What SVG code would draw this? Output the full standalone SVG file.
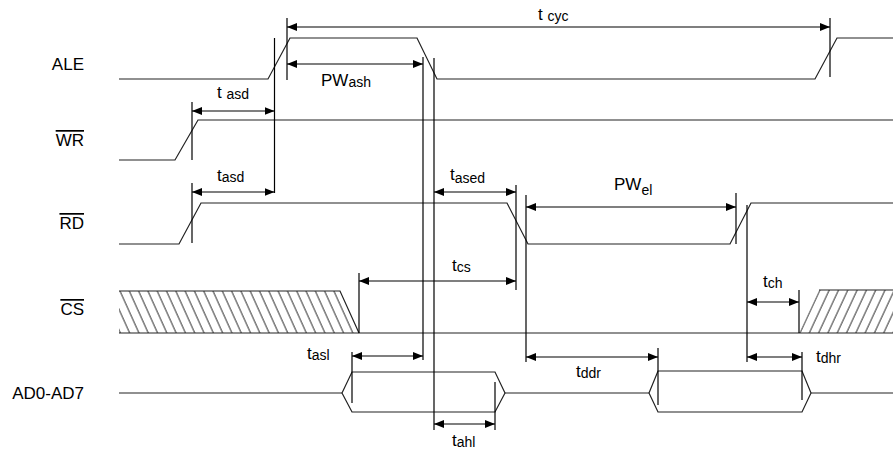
<svg xmlns="http://www.w3.org/2000/svg" width="893" height="450" viewBox="0 0 893 450">
<style>
.sig{fill:none;stroke:#222;stroke-width:1.2}
.v{stroke:#000;stroke-width:1.2}
.arr{stroke:#000;stroke-width:1.2;marker-start:url(#ah);marker-end:url(#ah)}
.lbl{font-family:"Liberation Sans",Arial,sans-serif;font-size:17px;fill:#000}
.ol{text-decoration:overline}
.sub{font-size:14px}
</style>
<defs>
<marker id="ah" viewBox="0 0 10 8" refX="10" refY="4" markerWidth="10" markerHeight="8" markerUnits="userSpaceOnUse" orient="auto-start-reverse">
<path d="M0,0 L10,4 L0,8 Z" fill="#000"/>
</marker>
<pattern id="hL" patternUnits="userSpaceOnUse" width="9.3" height="50" patternTransform="translate(119,291) skewX(24.3)">
<line x1="1" y1="-1" x2="1" y2="51" stroke="#222" stroke-width="1"/>
</pattern>
<pattern id="hR" patternUnits="userSpaceOnUse" width="9.3" height="50" patternTransform="translate(799,333) skewX(-24.9)">
<line x1="1" y1="-1" x2="1" y2="51" stroke="#222" stroke-width="1"/>
</pattern>
</defs>
<rect width="893" height="450" fill="#fff"/>

<g id="labels" class="lbl" text-anchor="end">
<text x="84" y="70">ALE</text>
<text x="84" y="146" class="ol">WR</text>
<text x="84" y="229" class="ol">RD</text>
<text x="84" y="315" class="ol">CS</text>
<text x="84" y="399">AD0-AD7</text>
</g>

<g id="ALE"><polyline class="sig" points="119,79 268,79 290,38 417,38 437,79 815,79 837,38 893,38"/></g>
<g id="WR"><polyline class="sig" points="119,160 175,160 198,120 893,120"/></g>
<g id="RD"><polyline class="sig" points="119,244 179,244 201,203 507,203 528,244 730,244 751,203 893,203"/></g>
<g id="CS">
<polygon points="119,291 340,291 359,333 119,333" fill="url(#hL)" stroke="none"/>
<polyline class="sig" points="119,291 340,291 359,333"/>
<polygon points="799,333 819,290 893,290 893,333" fill="url(#hR)" stroke="none"/>
<polyline class="sig" points="893,290 819,290"/>
<line class="sig" x1="119" y1="333" x2="893" y2="333"/>
</g>
<g id="AD">
<polyline class="sig" points="119,393 342,393"/>
<polygon class="sig" points="342,393 352,372 495,372 505,393 495,412 352,412"/>
<polyline class="sig" points="505,393 649,393"/>
<polygon class="sig" points="649,393 658,371 802,371 811,393 802,412 658,412"/>
<polyline class="sig" points="811,393 893,393"/>
</g>

<g id="connectors">
<line class="v" x1="274.5" y1="38" x2="274.5" y2="193"/>
<line class="v" x1="287" y1="18" x2="287" y2="80"/>
<line class="v" x1="830" y1="18" x2="830" y2="77"/>
<line class="v" x1="423" y1="57" x2="423" y2="360"/>
<line class="v" x1="434" y1="58" x2="434" y2="430"/>
<line class="v" x1="192" y1="102" x2="192" y2="160"/>
<line class="v" x1="192" y1="183" x2="192" y2="243"/>
<line class="v" x1="516" y1="185" x2="516" y2="290"/>
<line class="v" x1="526" y1="195" x2="526" y2="362"/>
<line class="v" x1="736" y1="193" x2="736" y2="244"/>
<line class="v" x1="359" y1="273" x2="359" y2="333"/>
<line class="v" x1="747" y1="205" x2="747" y2="362"/>
<line class="v" x1="799" y1="290" x2="799" y2="333"/>
<line class="v" x1="352" y1="352" x2="352" y2="403"/>
<line class="v" x1="495" y1="382" x2="495" y2="430"/>
<line class="v" x1="658" y1="348" x2="658" y2="405"/>
<line class="v" x1="802" y1="352" x2="802" y2="400"/>

<line class="arr" x1="287" y1="27" x2="830" y2="27"/>
<line class="arr" x1="287" y1="64" x2="423" y2="64"/>
<line class="arr" x1="192" y1="111" x2="274.5" y2="111"/>
<line class="arr" x1="192" y1="192" x2="274.5" y2="192"/>
<line class="arr" x1="434" y1="192" x2="516" y2="192"/>
<line class="arr" x1="526" y1="207" x2="736" y2="207"/>
<line class="arr" x1="359" y1="281" x2="516" y2="281"/>
<line class="arr" x1="747" y1="302" x2="799" y2="302"/>
<line class="arr" x1="352" y1="356" x2="423" y2="356"/>
<line class="arr" x1="434" y1="424" x2="495" y2="424"/>
<line class="arr" x1="526" y1="357" x2="658" y2="357"/>
<line class="arr" x1="747" y1="357" x2="802" y2="357"/>
</g>

<g id="timing-labels" class="lbl">
<text x="538" y="20">t <tspan class="sub" dy="1">cyc</tspan></text>
<text x="321" y="86">PW<tspan class="sub" dy="1">ash</tspan></text>
<text x="217" y="98">t <tspan class="sub" dy="1">asd</tspan></text>
<text x="217" y="181">t<tspan class="sub" dy="1">asd</tspan></text>
<text x="450" y="180">t<tspan class="sub" dy="3">ased</tspan></text>
<text x="614" y="190">PW<tspan class="sub" dy="5">el</tspan></text>
<text x="452" y="271">t<tspan class="sub" dy="1">cs</tspan></text>
<text x="763" y="287">t<tspan class="sub" dy="1">ch</tspan></text>
<text x="307" y="359">t<tspan class="sub" dy="1">asl</tspan></text>
<text x="576" y="377">t<tspan class="sub" dy="1">ddr</tspan></text>
<text x="816" y="362">t<tspan class="sub" dy="1">dhr</tspan></text>
<text x="452" y="446">t<tspan class="sub" dy="1">ahl</tspan></text>
</g>
</svg>
